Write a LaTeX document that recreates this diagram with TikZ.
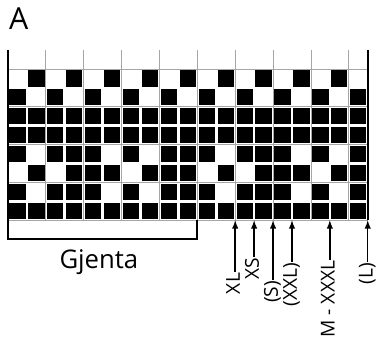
\documentclass[tikz,border=0pt]{standalone}
\usepackage{fontspec}
\setmainfont{Open Sans}

\begin{document}

\begin{tikzpicture}[> = latex, x = 0.5cm, y = 0.5cm,
	gridline/.style = {draw = gray!70, line width = 0.6pt},
	sizelabel/.style = {rotate = 90, anchor = east, inner sep = 0.5pt, text height = 0.72em, text depth = 0pt, font = \fontsize{14.4}{16}\selectfont}]

\useasboundingbox (-0.4226, -6.214) rectangle (19.49, 11.641);

% Title

\node (title) [anchor = base west, inner sep = 0pt, font = \fontsize{22.8}{26}\selectfont] at (0.05, 10.06) {A};

% Grid lines

\draw [gridline] (0, 0) grid (19, 9);

% Filled cells, top row first

\foreach \R [count = \j] in {
	{0,0,0,0,0,0,0,0,0,0,0,0,0,0,0,0,0,0,0},
	{0,1,0,1,0,1,0,1,0,1,0,1,0,1,0,1,0,1,0},
	{1,0,1,0,1,0,1,0,1,0,1,0,1,0,1,0,1,0,1},
	{1,1,1,1,1,1,1,1,1,1,1,1,1,1,1,1,1,1,1},
	{1,1,1,1,1,1,1,1,1,1,1,1,1,1,1,1,1,1,1},
	{1,0,1,1,1,0,1,0,1,1,1,0,1,1,1,0,1,0,1},
	{0,1,0,1,1,1,0,1,1,1,0,1,0,1,1,1,0,1,1},
	{1,0,1,1,1,0,1,0,1,1,1,0,1,1,1,0,1,0,1},
	{1,1,1,1,1,1,1,1,1,1,1,1,1,1,1,1,1,1,1}}
	\foreach \C [count = \i] in \R
		{\ifnum\C=1 \fill (\i - 0.93, 9.07 - \j) rectangle (\i - 0.07, 9.93 - \j); \fi}

% Outer edges + repeat bracket

\draw [line width = 1.5pt] (0, 9) -- (0, -1) -- (10, -1) -- (10, 0);
\draw [line width = 1.5pt] (19, 9) -- (19, 0);

\node (repeat) [anchor = base, inner sep = 0pt, font = \fontsize{19.3}{22}\selectfont] at (4.8, -2.53) {Gjenta};

% Size arrows

\foreach \X/\Y/\T/\N in {12/-2.73/XL/xl, 13/-1.93/XS/xs, 14/-3.15/{(S)}/s, 15/-2.2/{(XXL)}/xxl, 17/-2.09/{M - XXXL}/mxxxl, 19/-2.2/{(L)}/l}
{
	\coordinate (\N top) at (\X, 0);
	\node (\N) [sizelabel] at (\X, \Y) {\T};
	\draw [->, line width = 1.1pt] (\N.east) -- (\N top);
}

\end{tikzpicture}

\end{document}
